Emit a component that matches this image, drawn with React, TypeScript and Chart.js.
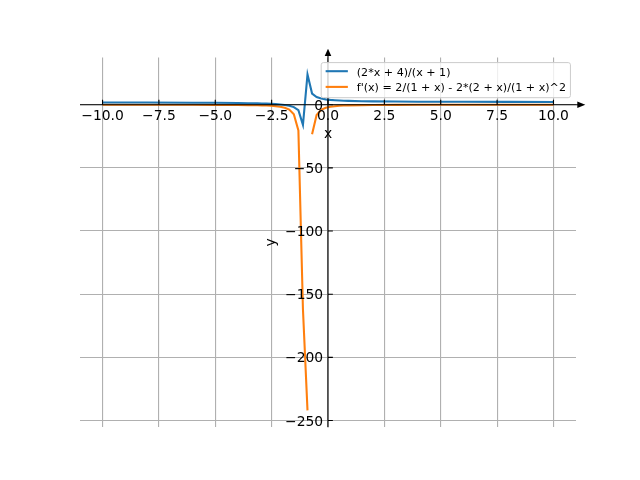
import React, { useEffect, useRef } from 'react';
import { Chart, registerables } from 'chart.js';

Chart.register(...registerables);

// Sample positions (x) and values
const xValues = [
  -10, -8, -6, -5, -4, -3.5354, -3.3333, -3.1313, -2.9293, -2.7273, -2.5253, -2.3232,
  -2.1212, -1.9192, -1.7172, -1.5152, -1.3131, -1.1111, -0.9091, -0.7071, -0.5051,
  -0.303, -0.101, 0.101, 0.303, 0.5051, 0.7071, 0.9091, 1.5, 2, 3, 4, 6, 8, 10,
];
const blueValues = [
  1.7778, 1.7143, 1.6, 1.5, 1.3333, 1.2112, 1.1429, 1.0616, 0.9634, 0.8421, 0.6887, 0.4885,
  0.2162, -0.1758, -0.7887, -1.8824, -4.3871, -16, 24, 8.8276, 6.0408,
  4.8696, 4.2247, 3.8165, 3.5349, 3.3289, 3.1716, 3.0476, 2.8, 2.6667, 2.5, 2.4, 2.2857, 2.2222, 2.1818,
];
const orangeValues = [
  -0.0247, -0.0408, -0.08, -0.125, -0.2222, -0.3111, -0.3673, -0.4403, -0.5373, -0.6703, -0.8597, -1.1423,
  -1.591, -2.3671, -3.8881, -7.535, -20.398, -162, -242, -23.308, -8.1641,
  -4.1172, -2.4747, -1.6499, -1.1779, -0.8829, -0.6863, -0.5488, -0.32, -0.2222, -0.125, -0.08, -0.0408, -0.0247, -0.0165,
];
// the orange curve is broken between these two samples
const orangeGapAfterIndex = 18;

const seriesLabels = ['(2*x + 4)/(x + 1)', "f'(x) = 2/(1 + x) - 2*(2 + x)/(1 + x)^2"];
const seriesColors = ['#1f77b4', '#ff7f0e'];

const xTickValues = [-10, -7.5, -5, -2.5, 0, 2.5, 5, 7.5, 10];
const xTickLabels = ['−10.0', '−7.5', '−5.0', '−2.5', '0.0', '2.5', '5.0', '7.5', '10.0'];
const yTickValues = [0, -50, -100, -150, -200, -250];
const yTickLabels = ['0', '−50', '−100', '−150', '−200', '−250'];
const xLimits = [-11, 11];
const yLimits = [-255.3, 37.3];
const axisLabels = ['x', 'y'];

const PT = 100 / 72;
const FONT = '"DejaVu Sans", "Liberation Sans", sans-serif';

function roundRectPath(ctx: CanvasRenderingContext2D, x: number, y: number, w: number, h: number, r: number) {
  ctx.beginPath();
  ctx.moveTo(x + r, y);
  ctx.lineTo(x + w - r, y);
  ctx.arcTo(x + w, y, x + w, y + r, r);
  ctx.lineTo(x + w, y + h - r);
  ctx.arcTo(x + w, y + h, x + w - r, y + h, r);
  ctx.lineTo(x + r, y + h);
  ctx.arcTo(x, y + h, x, y + h - r, r);
  ctx.lineTo(x, y + r);
  ctx.arcTo(x, y, x + r, y, r);
  ctx.closePath();
}

const axesPlugin = {
  id: 'centeredAxes',
  afterDatasetsDraw(chart: any) {
    const ctx: CanvasRenderingContext2D = chart.ctx;
    const { left, right, top, bottom } = chart.chartArea;
    const xs = chart.scales.x;
    const ys = chart.scales.y;
    const x0 = xs.getPixelForValue(0);
    const y0 = ys.getPixelForValue(0);
    ctx.save();
    ctx.strokeStyle = '#000';
    ctx.fillStyle = '#000';
    ctx.lineWidth = 0.8 * PT;

    // spines
    ctx.beginPath();
    ctx.moveTo(left, y0);
    ctx.lineTo(right + 2, y0);
    ctx.moveTo(x0, bottom);
    ctx.lineTo(x0, top - 2);
    ctx.stroke();

    // arrow heads
    ctx.beginPath();
    ctx.moveTo(right + 9.3, y0);
    ctx.lineTo(right + 1.3, y0 - 3.3);
    ctx.lineTo(right + 1.3, y0 + 3.3);
    ctx.closePath();
    ctx.moveTo(x0, top - 8.9);
    ctx.lineTo(x0 - 3.3, top - 1.6);
    ctx.lineTo(x0 + 3.3, top - 1.6);
    ctx.closePath();
    ctx.fill();

    // tick marks
    const tl = 3.5 * PT;
    ctx.beginPath();
    xTickValues.forEach((v) => {
      const px = xs.getPixelForValue(v);
      ctx.moveTo(px, y0);
      ctx.lineTo(px, y0 - tl);
    });
    yTickValues.forEach((v) => {
      const py = ys.getPixelForValue(v);
      ctx.moveTo(x0, py);
      ctx.lineTo(x0 + tl, py);
    });
    ctx.stroke();

    // tick labels
    const fs = 10 * PT;
    ctx.font = `${fs}px ${FONT}`;
    ctx.textBaseline = 'alphabetic';
    ctx.textAlign = 'center';
    xTickValues.forEach((v, i) => {
      ctx.fillText(xTickLabels[i], xs.getPixelForValue(v), y0 + 15.3);
    });
    ctx.textAlign = 'right';
    yTickValues.forEach((v, i) => {
      ctx.fillText(yTickLabels[i], x0 - 3.5 * PT, ys.getPixelForValue(v) + 0.364 * fs);
    });

    // axis labels
    ctx.textAlign = 'center';
    ctx.fillText(axisLabels[0], x0, y0 + 33);
    ctx.save();
    ctx.translate(x0 - 53.5, (top + bottom) / 2);
    ctx.rotate(-Math.PI / 2);
    ctx.fillText(axisLabels[1], 0, 0);
    ctx.restore();

    // legend
    const lfs = 8 * PT;
    ctx.font = `${lfs}px ${FONT}`;
    const datasets = chart.data.datasets;
    let maxW = 0;
    datasets.forEach((d: any) => {
      maxW = Math.max(maxW, ctx.measureText(d.label).width);
    });
    const pad = 0.4 * lfs;
    const handleLen = 2 * lfs;
    const handlePad = 0.8 * lfs;
    const boxW = pad + handleLen + handlePad + maxW + pad;
    const boxH = 35.1;
    const boxRight = right - 0.5 * lfs;
    const boxLeft = boxRight - boxW;
    const boxTop = top + 5.0;
    roundRectPath(ctx, boxLeft, boxTop, boxW, boxH, 0.2 * lfs);
    ctx.fillStyle = 'rgba(255,255,255,0.8)';
    ctx.fill();
    ctx.strokeStyle = '#cccccc';
    ctx.lineWidth = 1;
    ctx.stroke();
    ctx.textAlign = 'left';
    datasets.forEach((d: any, i: number) => {
      const rowY = boxTop + 8.6 + i * 15.7;
      ctx.strokeStyle = d.borderColor;
      ctx.lineWidth = 1.5 * PT;
      ctx.beginPath();
      ctx.moveTo(boxLeft + pad, rowY);
      ctx.lineTo(boxLeft + pad + handleLen, rowY);
      ctx.stroke();
      ctx.fillStyle = '#000';
      ctx.fillText(d.label, boxLeft + pad + handleLen + handlePad, rowY + 4.4);
    });

    ctx.restore();
  },
};

export default function App() {
  const ref = useRef<HTMLCanvasElement>(null);
  useEffect(() => {
    if (!ref.current) return;
    const tickSetter = (vals: number[]) => (scale: any) => {
      scale.ticks = vals.map((v) => ({ value: v }));
    };
    const chart = new Chart(ref.current, {
      type: 'line',
      data: {
        datasets: [
          {
            label: seriesLabels[0],
            data: xValues.map((x, i) => ({ x, y: blueValues[i] })),
            borderColor: seriesColors[0],
            backgroundColor: seriesColors[0],
            borderWidth: 1.5 * PT,
            pointRadius: 0,
            tension: 0,
            fill: false,
          },
          {
            label: seriesLabels[1],
            data: xValues.map((x, i) => ({ x, y: orangeValues[i] })),
            borderColor: seriesColors[1],
            backgroundColor: seriesColors[1],
            borderWidth: 1.5 * PT,
            pointRadius: 0,
            tension: 0,
            fill: false,
            segment: {
              borderColor: (c: any) => (c.p0DataIndex === orangeGapAfterIndex ? 'rgba(0,0,0,0)' : undefined),
            },
          },
        ],
      },
      options: {
        responsive: false,
        animation: false,
        events: [],
        layout: { padding: { left: 80, right: 64, top: 57.6, bottom: 52.8 } },
        plugins: { legend: { display: false }, tooltip: { enabled: false } },
        scales: {
          x: {
            type: 'linear',
            min: xLimits[0],
            max: xLimits[1],
            afterBuildTicks: tickSetter(xTickValues),
            ticks: { display: false },
            grid: { color: '#b0b0b0', lineWidth: 0.8 * PT, drawTicks: false },
            border: { display: false },
          },
          y: {
            type: 'linear',
            min: yLimits[0],
            max: yLimits[1],
            afterBuildTicks: tickSetter(yTickValues),
            ticks: { display: false },
            grid: { color: '#b0b0b0', lineWidth: 0.8 * PT, drawTicks: false },
            border: { display: false },
          },
        },
      },
      plugins: [axesPlugin],
    } as any);
    return () => chart.destroy();
  }, []);
  return (
    <div style={{ position: 'absolute', left: 0, top: 0, width: 640, height: 480, background: '#fff' }}>
      <canvas ref={ref} width={640} height={480} style={{ display: 'block', width: 640, height: 480 }} />
    </div>
  );
}
